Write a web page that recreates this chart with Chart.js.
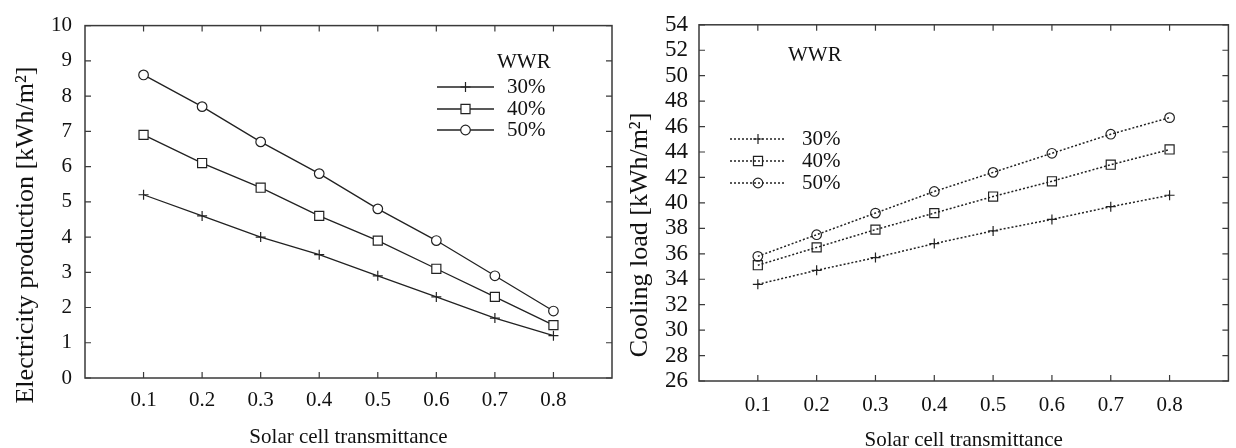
<!DOCTYPE html>
<html>
<head>
<meta charset="utf-8">
<script src="https://cdn.jsdelivr.net/npm/chart.js@4/dist/chart.umd.min.js"></script>
<style>
  body { margin: 0; background: #fff; }
  .wrap { position: absolute; top: 0; height: 448px; }
  #left { left: 0; width: 620px; }
  #right { left: 620px; width: 616px; }
</style>
</head>
<body>
<div class="wrap" id="left"><canvas id="elec"></canvas></div>
<div class="wrap" id="right"><canvas id="cool"></canvas></div>
<script>
// values
var transmittance = [0.1, 0.2, 0.3, 0.4, 0.5, 0.6, 0.7, 0.8];
var xTicks = [0.1, 0.2, 0.3, 0.4, 0.5, 0.6, 0.7, 0.8];
var wwrLabels = ['30%', '40%', '50%'];

var elec30 = [5.2, 4.6, 4.0, 3.5, 2.9, 2.3, 1.7, 1.2];
var elec40 = [6.9, 6.1, 5.4, 4.6, 3.9, 3.1, 2.3, 1.5];
var elec50 = [8.6, 7.7, 6.7, 5.8, 4.8, 3.9, 2.9, 1.9];

var cool30 = [33.6, 34.7, 35.7, 36.8, 37.8, 38.7, 39.7, 40.6];
var cool40 = [35.1, 36.5, 37.9, 39.2, 40.5, 41.7, 43.0, 44.2];
var cool50 = [35.8, 37.5, 39.2, 40.9, 42.4, 43.9, 45.4, 46.7];

var serif = "'Liberation Serif', 'Times New Roman', serif";
var ink = '#222';

function pts(ys) {
  return transmittance.map(function (x, i) { return { x: x, y: ys[i] }; });
}

// marker style for each WWR series: +, square, circle
var markers = [
  { style: 'cross', radius: 5 },
  { style: 'rect', radius: 6.4 },
  { style: 'circle', radius: 4.8 }
];

function makeSets(series, dash, fill) {
  return series.map(function (ys, i) {
    return {
      label: wwrLabels[i],
      data: pts(ys),
      borderColor: ink,
      borderWidth: dash ? 1.5 : 1.3,
      borderDash: dash || [],
      pointStyle: markers[i].style,
      pointRadius: markers[i].radius,
      pointBorderColor: ink,
      pointBackgroundColor: fill,
      pointBorderWidth: 1.2,
      tension: 0
    };
  });
}

// box frame + inward ticks on all four sides, and the y title
var framePlugin = {
  id: 'frame',
  beforeDatasetsDraw: function (chart, args, o) {
    var ctx = chart.ctx, a = chart.chartArea;
    var xs = chart.scales.x, ys = chart.scales.y;
    ctx.save();
    ctx.strokeStyle = '#3a3a3a';
    ctx.lineWidth = 1.5;
    ctx.strokeRect(a.left, a.top, a.right - a.left, a.bottom - a.top);
    ctx.lineWidth = 1.2;
    ctx.beginPath();
    xs.ticks.forEach(function (t) {
      var px = xs.getPixelForValue(t.value);
      ctx.moveTo(px, a.bottom); ctx.lineTo(px, a.bottom - 6);
      ctx.moveTo(px, a.top); ctx.lineTo(px, a.top + 6);
    });
    ys.ticks.forEach(function (t) {
      var py = ys.getPixelForValue(t.value);
      ctx.moveTo(a.left, py); ctx.lineTo(a.left + 6, py);
      ctx.moveTo(a.right, py); ctx.lineTo(a.right - 6, py);
    });
    ctx.stroke();

    // y axis title sits a bit lower than the axis centre in the original
    ctx.translate(o.titleX, o.titleY);
    ctx.rotate(-Math.PI / 2);
    ctx.font = o.titleSize + 'px ' + serif;
    ctx.fillStyle = '#111';
    ctx.textAlign = 'center';
    ctx.textBaseline = 'middle';
    ctx.fillText(o.title, 0, 0);
    ctx.restore();
  }
};

// legend drawn inside the plot like the original figure
var wwrLegend = {
  id: 'wwrLegend',
  afterDatasetsDraw: function (chart, args, o) {
    var ctx = chart.ctx;
    ctx.save();
    ctx.font = '21px ' + serif;
    ctx.fillStyle = '#111';
    ctx.textBaseline = 'middle';
    ctx.textAlign = 'left';
    ctx.fillText(o.title, o.titleX, o.titleY);
    chart.data.datasets.forEach(function (ds, i) {
      var y = o.rows[i];
      ctx.strokeStyle = ds.borderColor;
      ctx.lineWidth = ds.borderWidth;
      ctx.setLineDash(ds.borderDash);
      ctx.beginPath();
      ctx.moveTo(o.x1, y);
      ctx.lineTo(o.x2, y);
      ctx.stroke();
      ctx.setLineDash([]);
      ctx.fillStyle = ds.pointBackgroundColor;
      ctx.lineWidth = ds.pointBorderWidth;
      Chart.helpers.drawPoint(ctx, {
        pointStyle: ds.pointStyle, rotation: 0,
        radius: ds.pointRadius, borderWidth: ds.pointBorderWidth
      }, (o.x1 + o.x2) / 2, y);
      ctx.fillStyle = '#111';
      ctx.fillText(ds.label, o.textX, y);
    });
    ctx.restore();
  }
};

function makeChart(id, sets, yMin, yMax, yStep, yTitle, geo) {
  return new Chart(document.getElementById(id), {
    type: 'line',
    data: { datasets: sets },
    plugins: [framePlugin, wwrLegend],
    options: {
      responsive: true,
      maintainAspectRatio: false,
      animation: false,
      layout: { padding: geo.pad },
      plugins: {
        legend: { display: false },
        tooltip: { enabled: false },
        frame: { title: yTitle, titleX: geo.yTitleX, titleY: geo.yTitleY, titleSize: 26 },
        wwrLegend: geo.legend
      },
      scales: {
        x: {
          type: 'linear',
          min: 0,
          max: 0.9,
          afterBuildTicks: function (scale) {
            scale.ticks = xTicks.map(function (v) { return { value: v }; });
          },
          afterFit: function (scale) { scale.height = geo.xHeight; },
          grid: { display: false, drawTicks: false },
          border: { display: false },
          ticks: {
            padding: geo.xPad,
            color: '#111',
            font: { family: serif, size: 21 },
            maxRotation: 0,
            autoSkip: false,
            callback: function (v) { return v.toFixed(1); }
          },
          title: {
            display: true,
            text: 'Solar cell transmittance',
            color: '#111',
            font: { family: serif, size: 21 },
            padding: { top: 0, bottom: geo.xTitlePad }
          }
        },
        y: {
          min: yMin,
          max: yMax,
          afterFit: function (scale) { scale.width = geo.yWidth; },
          grid: { display: false, drawTicks: false },
          border: { display: false },
          ticks: {
            stepSize: yStep,
            padding: geo.yPad,
            autoSkip: false,
            color: '#111',
            font: { family: serif, size: geo.yFont }
          }
        }
      }
    }
  });
}

makeChart('elec', makeSets([elec30, elec40, elec50], null, '#fff'), 0, 10, 1,
  'Electricity production [kWh/m²]', {
    pad: { left: 0, top: 15, right: 8, bottom: 0 },
    xHeight: 70, yWidth: 85, xPad: 10, yPad: 13, yFont: 21, xTitlePad: -2,
    yTitleX: 26, yTitleY: 235,
    legend: { title: 'WWR', titleX: 497, titleY: 62, x1: 437, x2: 494, textX: 507, rows: [87, 109, 130] }
  });

makeChart('cool', makeSets([cool30, cool40, cool50], [2, 2], 'rgba(255,255,255,0)'), 26, 54, 2,
  'Cooling load [kWh/m²]', {
    pad: { left: 0, top: 14, right: 4, bottom: 0 },
    xHeight: 67, yWidth: 79, xPad: 12, yPad: 11, yFont: 23, xTitlePad: -5,
    yTitleX: 20, yTitleY: 235,
    legend: { title: 'WWR', titleX: 168, titleY: 55, x1: 110, x2: 166, textX: 182, rows: [139, 161, 183] }
  });
</script>
</body>
</html>
